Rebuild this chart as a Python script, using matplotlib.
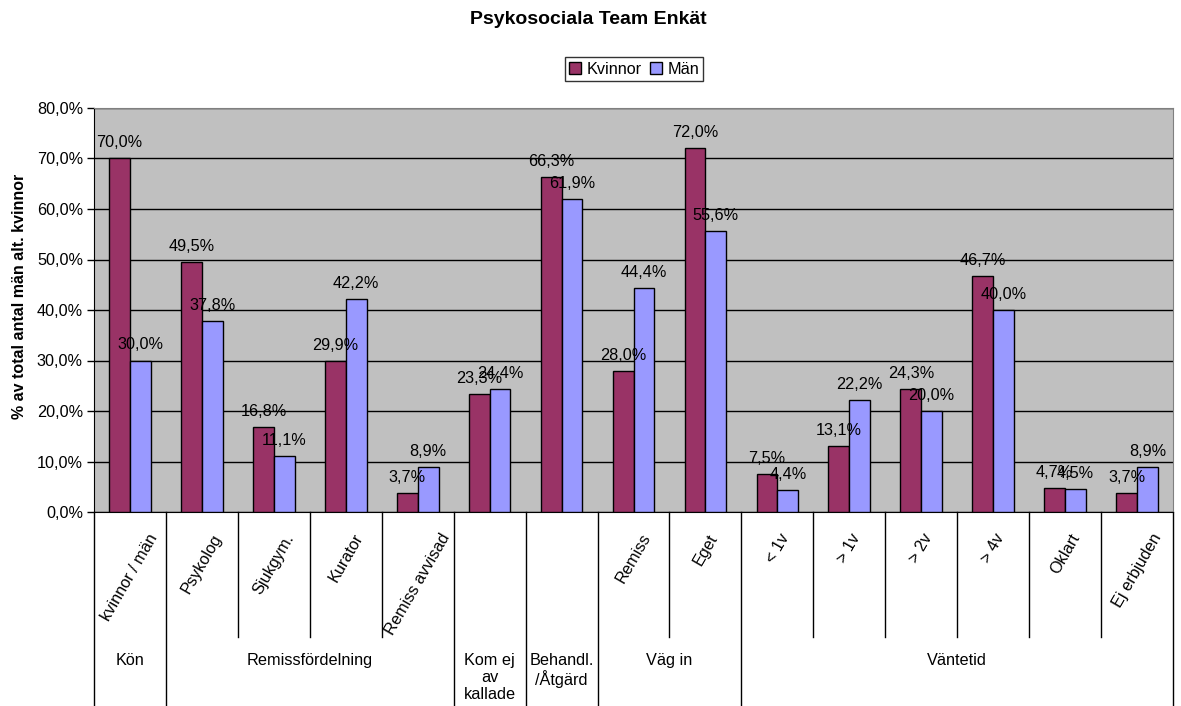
import matplotlib
matplotlib.use("Agg")
import matplotlib.pyplot as plt
import numpy as np
from matplotlib.ticker import FuncFormatter

plt.rcParams['font.family'] = ['Liberation Sans', 'DejaVu Sans']

categories = ["kvinnor / män", "Psykolog", "Sjukgym.", "Kurator", "Remiss avvisad",
              "", "", "Remiss", "Eget", "< 1v", "> 1v", "> 2v", "> 4v", "Oklart", "Ej erbjuden"]
groups = ["Kön", "Remissfördelning", "Kom ej\nav\nkallade", "Behandl.\n/Åtgärd", "Väg in", "Väntetid"]
group_spans = [(0, 0), (1, 4), (5, 5), (6, 6), (7, 8), (9, 14)]
kvinnor = [70.0, 49.5, 16.8, 29.9, 3.7, 23.3, 66.3, 28.0, 72.0, 7.5, 13.1, 24.3, 46.7, 4.7, 3.7]
man = [30.0, 37.8, 11.1, 42.2, 8.9, 24.4, 61.9, 44.4, 55.6, 4.4, 22.2, 20.0, 40.0, 4.5, 8.9]
series_names = ["Kvinnor", "Män"]
yticks = [0, 10, 20, 30, 40, 50, 60, 70, 80]

W, H = 1181, 706
fig = plt.figure(figsize=(W / 100, H / 100), dpi=100)
L, R, T, B = 94, 1173, 108, 512
ax = fig.add_axes([L / W, (H - B) / H, (R - L) / W, (B - T) / H])
ax.set_facecolor('#C0C0C0')

n = len(categories)
x = np.arange(n)
w = 0.29
b1 = ax.bar(x - w / 2, kvinnor, w, color='#993366', edgecolor='black', linewidth=1, label=series_names[0], zorder=3)
b2 = ax.bar(x + w / 2, man, w, color='#9999FF', edgecolor='black', linewidth=1, label=series_names[1], zorder=3)

fs = 11.7
def fmt(v):
    return f"{v:.1f}".replace('.', ',') + '%'

for bars, vals in ((b1, kvinnor), (b2, man)):
    for bar, v in zip(bars, vals):
        ax.annotate(fmt(v), (bar.get_x() + bar.get_width() / 2, v), xytext=(0, 11),
                    textcoords='offset pixels', ha='center', va='baseline', fontsize=fs, zorder=5)

ax.set_xlim(-0.5, n - 0.5)
ax.set_ylim(0, 80)
ax.set_yticks(yticks)
ax.yaxis.set_major_formatter(FuncFormatter(lambda v, p: fmt(v)))
ax.tick_params(axis='y', direction='out', length=5, width=1, labelsize=fs, pad=3)
ax.set_xticks([])
ax.grid(axis='y', color='black', linewidth=1, zorder=1)
ax.set_axisbelow(True)
for s in ('top', 'right'):
    ax.spines[s].set_color('#808080')
ax.spines['left'].set_color('black')
ax.spines['bottom'].set_color('black')

# multi-level category axis
tr = ax.get_xaxis_transform()
y_short = (B - 637) / (B - T)
y_long = (B - H) / (B - T)
group_bounds = set()
for s, e in group_spans:
    group_bounds.add(s)
    group_bounds.add(e + 1)
for k in range(n + 1):
    yb = y_long if k in group_bounds else y_short
    ax.plot([k - 0.5, k - 0.5], [0, yb], transform=tr, color='black', lw=1, clip_on=False)

y_cat = (B - 531) / (B - T)
for i, c in enumerate(categories):
    if c:
        ax.text(i, y_cat, c, transform=tr, rotation=60, ha='center', va='top', fontsize=fs)

y_grp = (B - 653) / (B - T)
for g, (s, e) in zip(groups, group_spans):
    ax.text((s + e) / 2, y_grp, g, transform=tr, ha='center', va='top', fontsize=fs, linespacing=1.15)

fig.text(588 / W, 1 - 20 / H, "Psykosociala Team Enkät", ha='center', va='center',
         fontsize=14, fontweight='bold')
fig.text(20 / W, 1 - 296 / H, "% av total antal män alt. kvinnor", rotation=90,
         ha='center', va='center', fontsize=11.5, fontweight='bold')

leg = fig.legend(handles=[b1, b2], labels=series_names, loc='center', bbox_to_anchor=(634 / W, 1 - 69 / H),
                 ncol=2, fontsize=fs, frameon=True, fancybox=False, edgecolor='black',
                 handlelength=0.75, handleheight=0.75, handletextpad=0.35, columnspacing=0.5,
                 borderpad=0.25, borderaxespad=0)
leg.get_frame().set_linewidth(1)

fig.savefig("out.png", dpi=100)
